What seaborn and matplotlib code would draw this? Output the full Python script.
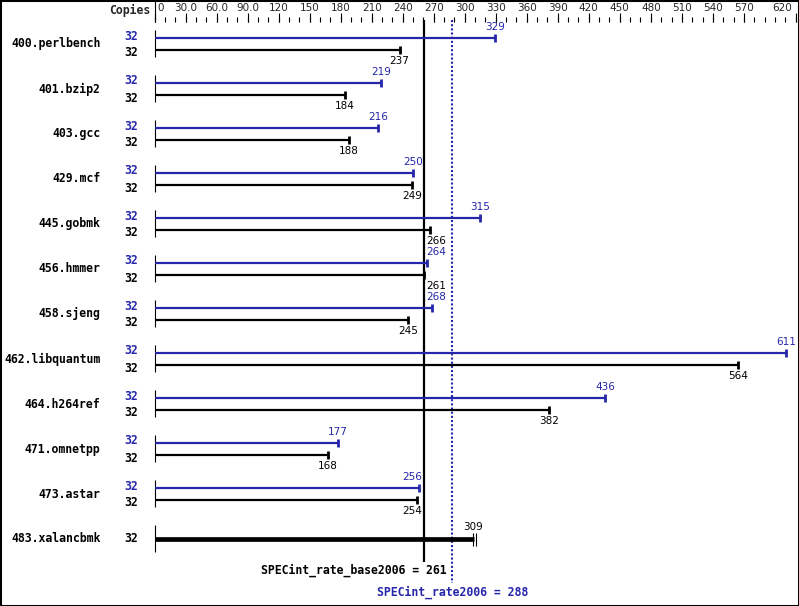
import numpy as np
import pandas as pd
import matplotlib.pyplot as plt
import seaborn as sns

# SPEC CPU2006 rate results
benchmarks = ["400.perlbench", "401.bzip2", "403.gcc", "429.mcf", "445.gobmk",
              "456.hmmer", "458.sjeng", "462.libquantum", "464.h264ref",
              "471.omnetpp", "473.astar", "483.xalancbmk"]
copies = [32] * 12
peak = [329, 219, 216, 250, 315, 264, 268, 611, 436, 177, 256, None]
base = [237, 184, 188, 249, 266, 261, 245, 564, 382, 168, 254, 309]
base_mean = 261
peak_mean = 288
tick_labels = ["0", "30.0", "60.0", "90.0", "120", "150", "180", "210", "240",
               "270", "300", "330", "360", "390", "420", "450", "480", "510",
               "540", "570", "620"]
tick_values = list(range(0, 571, 30)) + [620]

BLUE = "#2626aa"
W, H = 799, 606
X0, SCALE = 154.5, 1.034  # pixel of value 0, pixels per unit


def px(d):
    # pixel distance -> data units along x
    return d / SCALE


sns.set_style("white")
plt.rcParams["font.family"] = ["DejaVu Sans"]
mono = dict(family="DejaVu Sans Mono", fontweight="bold", fontsize=8.3)
small = dict(family="DejaVu Sans", fontsize=7.5)


def value_label(ax, v, y, color):
    # keep the number clear of the base mean line
    half = px(9)
    if v - half < base_mean + px(2) and v + half > base_mean - px(2):
        if v >= base_mean:
            ax.text(base_mean + px(2), y, str(v), ha="left", va="center",
                    color=color, **small)
        else:
            ax.text(base_mean - px(2), y, str(v), ha="right", va="center",
                    color=color, **small)
    else:
        ax.text(v, y, str(v), ha="center", va="center", color=color, **small)


fig = plt.figure(figsize=(W / 100, H / 100), dpi=100)
ax = fig.add_axes([0, 0, 1, 1])
ax.set_xlim(-X0 / SCALE, (W - X0) / SCALE)
ax.set_ylim(H, 0)
for s in ax.spines.values():
    s.set_visible(True)
    s.set_color("black")
    s.set_linewidth(2.2)

# top scale
ax.text(-px(4), 10, "Copies", ha="right", va="center", **mono)
ax.vlines(0, 0, 22, color="black", lw=0.8)
minor = np.arange(0, 621, 10)
ax.vlines(minor, 17, 22, color="black", lw=0.8)
ax.vlines(tick_values, 13, 22, color="black", lw=0.8)
for v, lab in zip(tick_values, tick_labels):
    if v == 0:
        ax.text(px(3), 8, lab, ha="left", va="center", **small)
    elif v == 620:
        ax.text(620 - px(4), 8, lab, ha="right", va="center", **small)
    else:
        ax.text(v, 8, lab, ha="center", va="center", **small)

# mean lines
ax.vlines(base_mean, 20, 562, color="black", lw=1.6)
ax.vlines(peak_mean, 20, 583, color=BLUE, lw=1.5, linestyles=(0, (1.0, 1.0)))
ax.text(base_mean + px(22), 570, f"SPECint_rate_base2006 = {base_mean}",
        ha="right", va="center", color="black", **mono)
ax.text(peak_mean, 592, f"SPECint_rate2006 = {peak_mean}",
        ha="center", va="center", color=BLUE, **mono)

rows = []
for i, name in enumerate(benchmarks):
    c = 44 + 45 * i
    ax.text(px(-54), c, name, ha="right", va="center", color="black", **mono)
    ax.vlines(0, c - 14, c + 13, color="black", lw=0.8)
    if peak[i] is None:
        ax.hlines(c, 0, base[i], color="black", lw=3.4)
        ax.vlines([base[i] - px(1.5), base[i] + px(1.5)], c - 6, c + 7,
                  color="black", lw=0.8)
        ax.text(px(-16), c, str(copies[i]), ha="right", va="center",
                color="black", **mono)
        ax.text(base[i] - px(1), c - 12, str(base[i]), ha="center",
                va="center", color="black", **small)
        continue
    yp, yb = c - 6, c + 6
    ax.hlines(yp, 0, peak[i], color=BLUE, lw=1.6)
    ax.hlines(yb, 0, base[i], color="black", lw=1.6)
    rows.append(dict(value=peak[i], y=yp, run="peak"))
    rows.append(dict(value=base[i], y=yb, run="base"))
    ax.text(px(-16), c - 8, str(copies[i]), ha="right", va="center",
            color=BLUE, **mono)
    ax.text(px(-16), c + 9, str(copies[i]), ha="right", va="center",
            color="black", **mono)
    value_label(ax, peak[i], yp - 11, BLUE)
    value_label(ax, base[i], yb + 11, "black")

caps = pd.DataFrame(rows)
sns.scatterplot(data=caps, x="value", y="y", hue="run",
                palette={"peak": BLUE, "base": "black"}, marker="|",
                s=36, linewidth=2.0, legend=False, ax=ax)
ax.set_xlabel("")
ax.set_ylabel("")
ax.set_xticks([])
ax.set_yticks([])

fig.savefig("out.png", dpi=100)
